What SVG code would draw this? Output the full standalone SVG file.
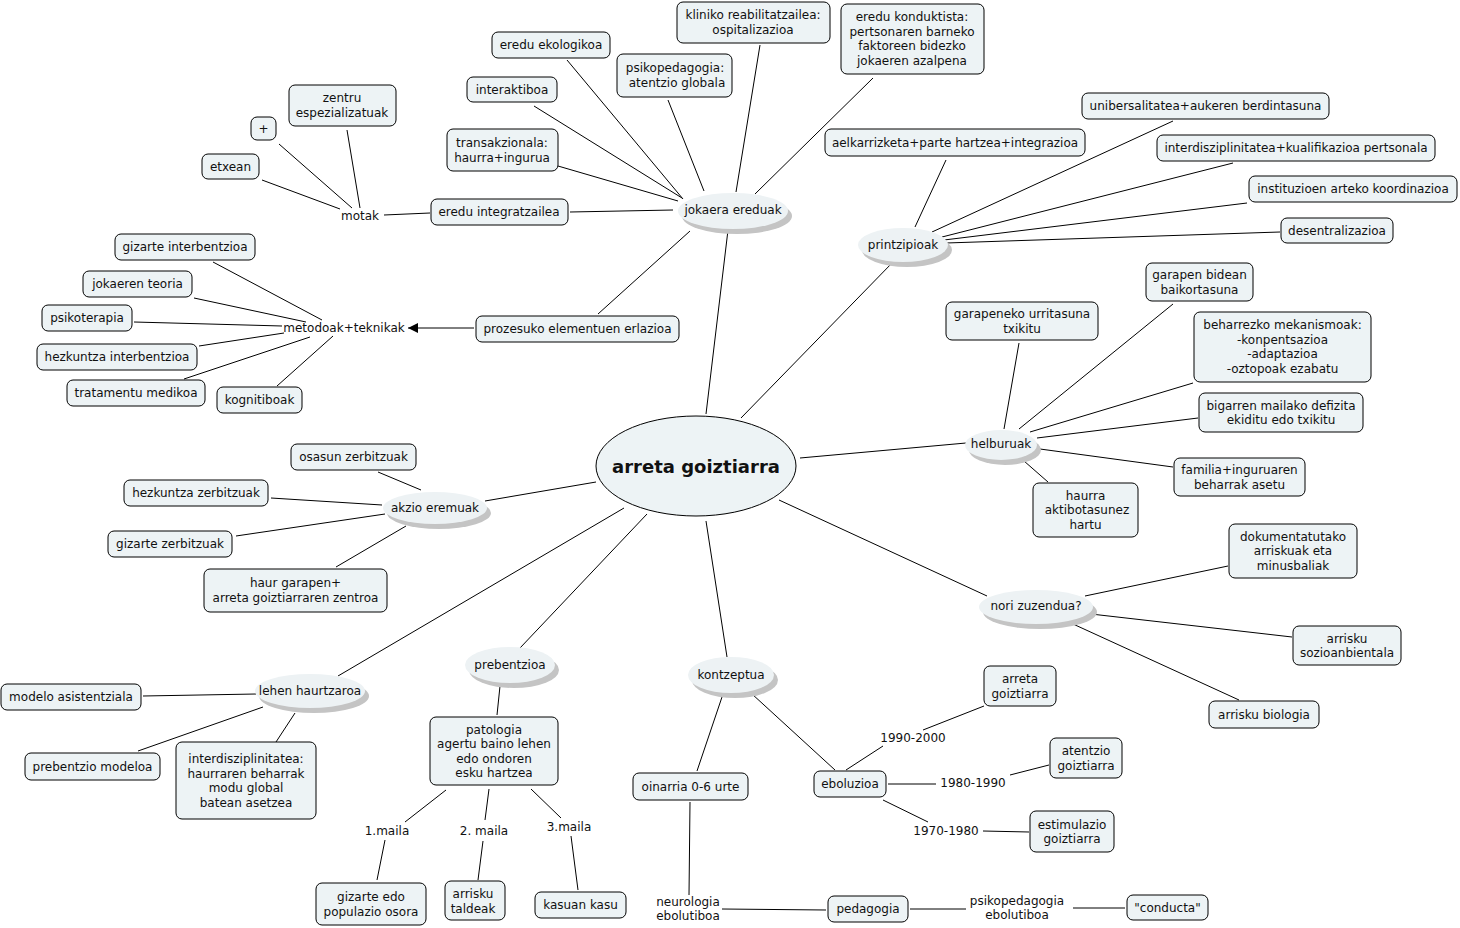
<svg xmlns="http://www.w3.org/2000/svg" width="1460" height="928" viewBox="0 0 1460 928">
<style>
text{font-family:"DejaVu Sans","Liberation Sans",sans-serif;font-size:12px;fill:#111;text-anchor:middle;dominant-baseline:central}
.b{fill:#edf3f5;stroke:#000;stroke-width:1}
.e{fill:#edf2f4;stroke:none}
.s{fill:#c4c4c4;stroke:none}
.c line{stroke:#000;stroke-width:1}
.big{font-size:18px;font-weight:bold}
</style>
<defs>
<marker id="arr" viewBox="0 0 10 10" refX="10" refY="5" markerWidth="10" markerHeight="10" markerUnits="userSpaceOnUse" orient="auto">
<path d="M0,0 L10,5 L0,10 z" fill="#000"/>
</marker>
</defs>
<rect width="1460" height="928" fill="#fff"/>
<g id="connectors" class="c">
<line x1="706" y1="414" x2="728" y2="230"/>
<line x1="741" y1="418" x2="893" y2="262"/>
<line x1="800" y1="458" x2="966" y2="443"/>
<line x1="779" y1="500" x2="987" y2="596"/>
<line x1="706" y1="521" x2="727" y2="657"/>
<line x1="647" y1="514" x2="520" y2="648"/>
<line x1="624" y1="508" x2="338" y2="676"/>
<line x1="596" y1="482" x2="485" y2="501"/>
<line x1="683" y1="199" x2="567" y2="60"/>
<line x1="736" y1="192" x2="760" y2="45"/>
<line x1="755" y1="194" x2="873" y2="78"/>
<line x1="704" y1="191" x2="668" y2="100"/>
<line x1="682" y1="198" x2="534" y2="106"/>
<line x1="678" y1="201" x2="558" y2="166"/>
<line x1="673" y1="210" x2="570" y2="212"/>
<line x1="690" y1="231" x2="598" y2="314"/>
<line x1="430" y1="213" x2="384" y2="215"/>
<line x1="360" y1="208" x2="347" y2="130"/>
<line x1="352" y1="208" x2="279" y2="144"/>
<line x1="340" y1="209" x2="262" y2="180"/>
<line x1="474" y1="328" x2="408" y2="328" marker-end="url(#arr)"/>
<line x1="322" y1="320" x2="213" y2="262"/>
<line x1="306" y1="322" x2="194" y2="298"/>
<line x1="282" y1="326" x2="134" y2="322"/>
<line x1="284" y1="333" x2="199" y2="346"/>
<line x1="310" y1="337" x2="184" y2="379"/>
<line x1="333" y1="336" x2="277" y2="386"/>
<line x1="915" y1="227" x2="946" y2="160"/>
<line x1="932" y1="232" x2="1173" y2="121"/>
<line x1="942" y1="237" x2="1233" y2="163"/>
<line x1="944" y1="240" x2="1247" y2="203"/>
<line x1="946" y1="243" x2="1280" y2="232"/>
<line x1="1004" y1="429" x2="1019" y2="343"/>
<line x1="1019" y1="429" x2="1173" y2="304"/>
<line x1="1030" y1="432" x2="1193" y2="383"/>
<line x1="1037" y1="438" x2="1198" y2="418"/>
<line x1="1040" y1="449" x2="1173" y2="467"/>
<line x1="1024" y1="461" x2="1048" y2="482"/>
<line x1="1085" y1="596" x2="1228" y2="566"/>
<line x1="1091" y1="614" x2="1292" y2="637"/>
<line x1="1073" y1="624" x2="1239" y2="700"/>
<line x1="421" y1="490" x2="378" y2="472"/>
<line x1="382" y1="505" x2="271" y2="498"/>
<line x1="385" y1="514" x2="236" y2="536"/>
<line x1="406" y1="526" x2="336" y2="567"/>
<line x1="256" y1="694" x2="143" y2="696"/>
<line x1="263" y1="707" x2="138" y2="751"/>
<line x1="295" y1="713" x2="276" y2="742"/>
<line x1="500" y1="686" x2="497" y2="715"/>
<line x1="446" y1="790" x2="405" y2="822"/>
<line x1="385" y1="840" x2="377" y2="880"/>
<line x1="489" y1="789" x2="485" y2="820"/>
<line x1="483" y1="841" x2="478" y2="880"/>
<line x1="531" y1="789" x2="561" y2="818"/>
<line x1="571" y1="836" x2="578" y2="890"/>
<line x1="722" y1="697" x2="697" y2="771"/>
<line x1="752" y1="694" x2="835" y2="770"/>
<line x1="690" y1="802" x2="689" y2="895"/>
<line x1="722" y1="909" x2="826" y2="910"/>
<line x1="910" y1="909" x2="966" y2="909"/>
<line x1="1073" y1="908" x2="1125" y2="908"/>
<line x1="846" y1="770" x2="883" y2="746"/>
<line x1="923" y1="730" x2="984" y2="706"/>
<line x1="888" y1="784" x2="936" y2="784"/>
<line x1="1010" y1="775" x2="1049" y2="765"/>
<line x1="883" y1="800" x2="928" y2="822"/>
<line x1="983" y1="831" x2="1029" y2="832"/>
</g>
<g id="n-center"><ellipse cx="696" cy="466" rx="100" ry="50" fill="#edf3f5" stroke="#000"/><text x="696" y="466" class="big">arreta goiztiarra</text></g>
<g id="n-jokaera"><ellipse class="s" cx="737" cy="216" rx="55" ry="18"/><ellipse class="e" cx="733" cy="211" rx="55" ry="18"/><text x="733" y="210">jokaera ereduak</text></g>
<g id="n-printzipioak"><ellipse class="s" cx="907" cy="250" rx="45" ry="17"/><ellipse class="e" cx="903" cy="245" rx="45" ry="17"/><text x="903" y="245">printzipioak</text></g>
<g id="n-helburuak"><ellipse class="s" cx="1005" cy="450" rx="36" ry="15"/><ellipse class="e" cx="1001" cy="445" rx="36" ry="15"/><text x="1001" y="444">helburuak</text></g>
<g id="n-nori"><ellipse class="s" cx="1040" cy="612" rx="57" ry="17"/><ellipse class="e" cx="1036" cy="607" rx="57" ry="17"/><text x="1036" y="606">nori zuzendua?</text></g>
<g id="n-akzio"><ellipse class="s" cx="439" cy="513" rx="52" ry="16"/><ellipse class="e" cx="435" cy="508" rx="52" ry="16"/><text x="435" y="508">akzio eremuak</text></g>
<g id="n-lehen"><ellipse class="s" cx="314" cy="696" rx="55" ry="17"/><ellipse class="e" cx="310" cy="691" rx="55" ry="17"/><text x="310" y="691">lehen haurtzaroa</text></g>
<g id="n-prebentzioa"><ellipse class="s" cx="514" cy="670" rx="45" ry="18"/><ellipse class="e" cx="510" cy="665" rx="45" ry="18"/><text x="510" y="665">prebentzioa</text></g>
<g id="n-kontzeptua"><ellipse class="s" cx="735" cy="680" rx="43" ry="18"/><ellipse class="e" cx="731" cy="675" rx="43" ry="18"/><text x="731" y="675">kontzeptua</text></g>

<g id="n-ekologikoa"><rect class="b" x="492" y="32" width="118" height="26" rx="6"/><text x="551" y="45">eredu ekologikoa</text></g>
<g id="n-kliniko"><rect class="b" x="677" y="2" width="153" height="41" rx="6"/><text x="753" y="15">kliniko reabilitatzailea:<tspan x="753" dy="14.5">ospitalizazioa</tspan></text></g>
<g id="n-konduktista"><rect class="b" x="841" y="4" width="143" height="70" rx="6"/><text x="912" y="17">eredu konduktista:<tspan x="912" dy="14.5">pertsonaren barneko</tspan><tspan x="912" dy="14.5">faktoreen bidezko</tspan><tspan x="912" dy="14.5">jokaeren azalpena</tspan></text></g>
<g id="n-psikoped"><rect class="b" x="617" y="54" width="115" height="43" rx="6"/><text x="675" y="68">psikopedagogia:<tspan x="677" dy="14.5">atentzio globala</tspan></text></g>
<g id="n-interaktiboa"><rect class="b" x="467" y="77" width="90" height="25" rx="6"/><text x="512" y="89.5">interaktiboa</text></g>
<g id="n-transakzionala"><rect class="b" x="447" y="129" width="111" height="42" rx="6"/><text x="502" y="143">transakzionala:<tspan x="502" dy="14.5">haurra+ingurua</tspan></text></g>
<g id="n-integratzailea"><rect class="b" x="431" y="199" width="137" height="26" rx="6"/><text x="499" y="212">eredu integratzailea</text></g>
<g id="n-motak"><text x="360" y="216">motak</text></g>
<g id="n-zentru"><rect class="b" x="289" y="85" width="107" height="41" rx="6"/><text x="342" y="98">zentru<tspan x="342" dy="14.5">espezializatuak</tspan></text></g>
<g id="n-plus"><rect class="b" x="251" y="117" width="25" height="23" rx="6"/><text x="263.5" y="128.5">+</text></g>
<g id="n-etxean"><rect class="b" x="202" y="154" width="57" height="25" rx="6"/><text x="230.5" y="166.5">etxean</text></g>
<g id="n-prozesuko"><rect class="b" x="476" y="316" width="203" height="26" rx="6"/><text x="577.5" y="329">prozesuko elementuen erlazioa</text></g>
<g id="n-metodoak"><text x="344" y="328">metodoak+teknikak</text></g>
<g id="n-gizarte-int"><rect class="b" x="115" y="234" width="140" height="26" rx="6"/><text x="185" y="247">gizarte interbentzioa</text></g>
<g id="n-jokaeren"><rect class="b" x="83" y="271" width="109" height="26" rx="6"/><text x="137.5" y="284">jokaeren teoria</text></g>
<g id="n-psikoterapia"><rect class="b" x="42" y="305" width="90" height="26" rx="6"/><text x="87" y="318">psikoterapia</text></g>
<g id="n-hezkuntza-int"><rect class="b" x="37" y="344" width="160" height="26" rx="6"/><text x="117" y="357">hezkuntza interbentzioa</text></g>
<g id="n-tratamentu"><rect class="b" x="67" y="380" width="138" height="26" rx="6"/><text x="136" y="393">tratamentu medikoa</text></g>
<g id="n-kognitiboak"><rect class="b" x="217" y="387" width="85" height="26" rx="6"/><text x="259.5" y="400">kognitiboak</text></g>

<g id="n-aelkarrizketa"><rect class="b" x="825" y="129" width="260" height="27" rx="6"/><text x="955" y="142.5">aelkarrizketa+parte hartzea+integrazioa</text></g>
<g id="n-unibersalitatea"><rect class="b" x="1082" y="93" width="247" height="26" rx="6"/><text x="1205.5" y="106">unibersalitatea+aukeren berdintasuna</text></g>
<g id="n-interdisz-kual"><rect class="b" x="1157" y="135" width="278" height="26" rx="6"/><text x="1296" y="148">interdisziplinitatea+kualifikazioa pertsonala</text></g>
<g id="n-instituzioen"><rect class="b" x="1249" y="176" width="208" height="26" rx="6"/><text x="1353" y="189">instituzioen arteko koordinazioa</text></g>
<g id="n-desentralizazioa"><rect class="b" x="1281" y="218" width="112" height="25" rx="6"/><text x="1337" y="230.5">desentralizazioa</text></g>

<g id="n-garapen-bidean"><rect class="b" x="1146" y="263" width="107" height="38" rx="6"/><text x="1199.5" y="275">garapen bidean<tspan x="1199.5" dy="14.5">baikortasuna</tspan></text></g>
<g id="n-garapeneko"><rect class="b" x="946" y="302" width="152" height="38" rx="6"/><text x="1022" y="314">garapeneko urritasuna<tspan x="1022" dy="14.5">txikitu</tspan></text></g>
<g id="n-beharrezko"><rect class="b" x="1194" y="312" width="177" height="70" rx="6"/><text x="1282.5" y="325">beharrezko mekanismoak:<tspan x="1282.5" dy="14.5">-konpentsazioa</tspan><tspan x="1282.5" dy="14.5">-adaptazioa</tspan><tspan x="1282.5" dy="14.5">-oztopoak ezabatu</tspan></text></g>
<g id="n-bigarren"><rect class="b" x="1199" y="393" width="164" height="39" rx="6"/><text x="1281" y="405.5">bigarren mailako defizita<tspan x="1281" dy="14.5">ekiditu edo txikitu</tspan></text></g>
<g id="n-familia"><rect class="b" x="1174" y="458" width="131" height="38" rx="6"/><text x="1239.5" y="470">familia+inguruaren<tspan x="1239.5" dy="14.5">beharrak asetu</tspan></text></g>
<g id="n-haurra"><rect class="b" x="1033" y="483" width="105" height="54" rx="6"/><text x="1085.5" y="495.5">haurra<tspan x="1087" dy="14.5">aktibotasunez</tspan><tspan x="1085.5" dy="14.5">hartu</tspan></text></g>

<g id="n-dokumentatutako"><rect class="b" x="1229" y="524" width="128" height="54" rx="6"/><text x="1293" y="536.5">dokumentatutako<tspan x="1293" dy="14.5">arriskuak eta</tspan><tspan x="1293" dy="14.5">minusbaliak</tspan></text></g>
<g id="n-sozio"><rect class="b" x="1293" y="626" width="108" height="39" rx="6"/><text x="1347" y="638.5">arrisku<tspan x="1347" dy="14.5">sozioanbientala</tspan></text></g>
<g id="n-biologia"><rect class="b" x="1209" y="701" width="110" height="27" rx="6"/><text x="1264" y="714.5">arrisku biologia</text></g>

<g id="n-osasun"><rect class="b" x="291" y="444" width="125" height="26" rx="6"/><text x="353.5" y="457">osasun zerbitzuak</text></g>
<g id="n-hezkuntza-zerb"><rect class="b" x="124" y="480" width="144" height="26" rx="6"/><text x="196" y="493">hezkuntza zerbitzuak</text></g>
<g id="n-gizarte-zerb"><rect class="b" x="108" y="531" width="124" height="26" rx="6"/><text x="170" y="544">gizarte zerbitzuak</text></g>
<g id="n-haur-garapen"><rect class="b" x="204" y="569" width="183" height="43" rx="6"/><text x="295.5" y="583">haur garapen+<tspan x="295.5" dy="14.5">arreta goiztiarraren zentroa</tspan></text></g>

<g id="n-modelo"><rect class="b" x="1" y="684" width="140" height="26" rx="6"/><text x="71" y="697">modelo asistentziala</text></g>
<g id="n-prebentzio-modeloa"><rect class="b" x="25" y="753" width="135" height="27" rx="6"/><text x="92.5" y="766.5">prebentzio modeloa</text></g>
<g id="n-interdisz-lehen"><rect class="b" x="176" y="742" width="140" height="77" rx="6"/><text x="246" y="759">interdisziplinitatea:<tspan x="246" dy="14.5">haurraren beharrak</tspan><tspan x="246" dy="14.5">modu global</tspan><tspan x="246" dy="14.5">batean asetzea</tspan></text></g>

<g id="n-patologia"><rect class="b" x="430" y="717" width="128" height="68" rx="6"/><text x="494" y="729.5">patologia<tspan x="494" dy="14.5">agertu baino lehen</tspan><tspan x="494" dy="14.5">edo ondoren</tspan><tspan x="494" dy="14.5">esku hartzea</tspan></text></g>
<g id="n-maila1"><text x="387" y="831">1.maila</text></g>
<g id="n-maila2"><text x="484" y="831">2. maila</text></g>
<g id="n-maila3"><text x="569" y="827">3.maila</text></g>
<g id="n-gizarte-edo"><rect class="b" x="316" y="883" width="110" height="42" rx="6"/><text x="371" y="897">gizarte edo<tspan x="371" dy="14.5">populazio osora</tspan></text></g>
<g id="n-taldeak"><rect class="b" x="445" y="881" width="60" height="39" rx="6"/><text x="473" y="894">arrisku<tspan x="473" dy="14.5">taldeak</tspan></text></g>
<g id="n-kasuan"><rect class="b" x="535" y="892" width="91" height="26" rx="6"/><text x="580.5" y="905">kasuan kasu</text></g>

<g id="n-oinarria"><rect class="b" x="633" y="773" width="115" height="27" rx="6"/><text x="690.5" y="786.5">oinarria 0-6 urte</text></g>
<g id="n-eboluzioa"><rect class="b" x="814" y="771" width="72" height="26" rx="6"/><text x="850" y="784">eboluzioa</text></g>
<g id="n-y1990"><text x="913" y="738">1990-2000</text></g>
<g id="n-y1980"><text x="973" y="783">1980-1990</text></g>
<g id="n-y1970"><text x="946" y="831">1970-1980</text></g>
<g id="n-arreta-small"><rect class="b" x="984" y="666" width="72" height="40" rx="6"/><text x="1020" y="679">arreta<tspan x="1020" dy="14.5">goiztiarra</tspan></text></g>
<g id="n-atentzio"><rect class="b" x="1050" y="738" width="72" height="40" rx="6"/><text x="1086" y="751">atentzio<tspan x="1086" dy="14.5">goiztiarra</tspan></text></g>
<g id="n-estimulazio"><rect class="b" x="1030" y="811" width="84" height="41" rx="6"/><text x="1072" y="824.5">estimulazio<tspan x="1072" dy="14.5">goiztiarra</tspan></text></g>
<g id="n-neurologia"><text x="688" y="902">neurologia<tspan x="688" dy="14">ebolutiboa</tspan></text></g>
<g id="n-pedagogia"><rect class="b" x="828" y="896" width="80" height="26" rx="6"/><text x="868" y="909">pedagogia</text></g>
<g id="n-psikopedagogia-ebo"><text x="1017" y="901">psikopedagogia<tspan x="1017" dy="14">ebolutiboa</tspan></text></g>
<g id="n-conducta"><rect class="b" x="1127" y="895" width="81" height="25" rx="6"/><text x="1167.5" y="907.5">"conducta"</text></g>
</svg>
